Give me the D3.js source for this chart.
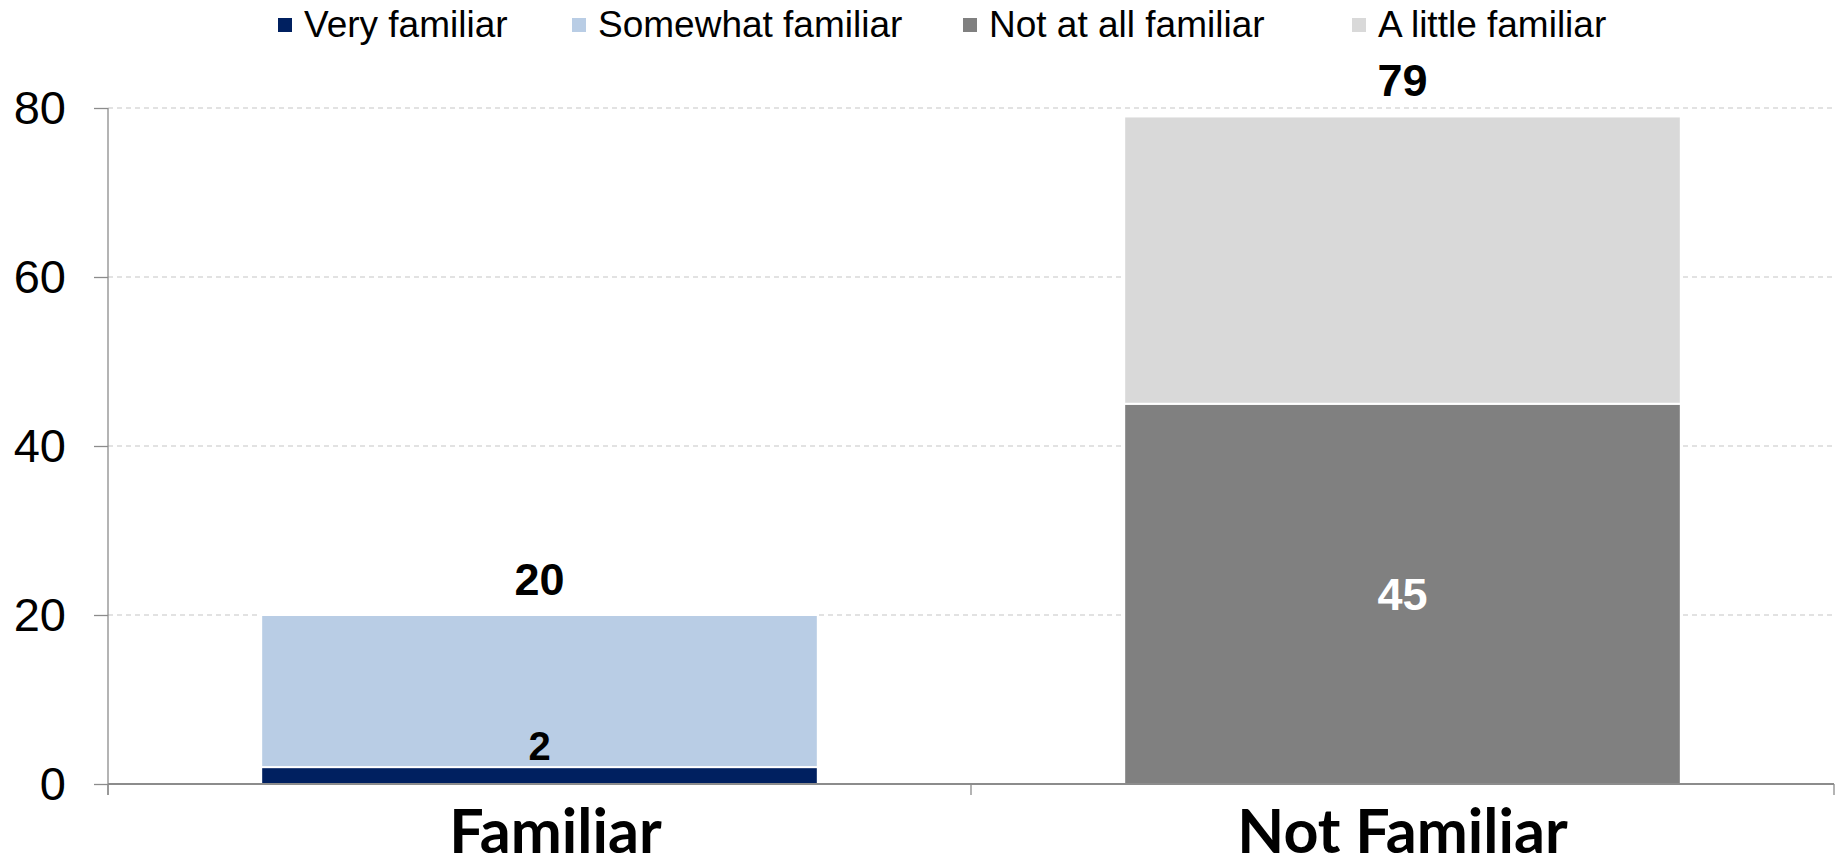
<!DOCTYPE html>
<html>
<head>
<meta charset="utf-8">
<script src="https://cdn.jsdelivr.net/npm/d3@7"></script>
<style>
  html, body { margin: 0; padding: 0; background: #ffffff; }
  svg { display: block; }
</style>
</head>
<body>
<svg id="chart" width="1841" height="855"></svg>
<script>
// Familiarity survey: stacked shares per group
const categories = ["Familiar", "Not Familiar"];
const seriesNames = ["Very familiar", "Somewhat familiar", "Not at all familiar", "A little familiar"];
const seriesColors = ["#002060", "#b9cde5", "#808080", "#d9d9d9"];
const veryFamiliar = [2, 0];
const somewhatFamiliar = [18, 0];
const notAtAllFamiliar = [0, 45];
const aLittleFamiliar = [0, 34];
const totals = [20, 79];
const yTicks = [0, 20, 40, 60, 80];

const W = 1841, H = 855;
const plot = { left: 108, right: 1834, top: 108, bottom: 784 };
const categoryLabelShift = [16, 0];

const svg = d3.select("#chart");

const rows = categories.map((c, i) => ({
  category: c,
  "Very familiar": veryFamiliar[i],
  "Somewhat familiar": somewhatFamiliar[i],
  "Not at all familiar": notAtAllFamiliar[i],
  "A little familiar": aLittleFamiliar[i]
}));

const stacked = d3.stack().keys(seriesNames)(rows);

const x = d3.scaleBand()
  .domain(categories)
  .range([plot.left, plot.right])
  .paddingInner(0.355)
  .paddingOuter(0.1775);

const y = d3.scaleLinear().domain([0, 80]).range([plot.bottom, plot.top]);

const color = d3.scaleOrdinal().domain(seriesNames).range(seriesColors);

// dashed horizontal gridlines
svg.append("g")
  .selectAll("line")
  .data(yTicks.filter(t => t > 0))
  .join("line")
  .attr("x1", plot.left)
  .attr("x2", plot.right)
  .attr("y1", d => y(d))
  .attr("y2", d => y(d))
  .attr("stroke", "#d9d9d9")
  .attr("stroke-width", 1.3)
  .attr("stroke-dasharray", "5,4");

// stacked bars
svg.append("g")
  .selectAll("g")
  .data(stacked)
  .join("g")
  .attr("fill", d => color(d.key))
  .selectAll("rect")
  .data(d => d.filter(s => s[1] - s[0] > 0))
  .join("rect")
  .attr("x", d => x(d.data.category))
  .attr("width", x.bandwidth())
  .attr("y", d => y(d[1]))
  .attr("height", d => y(d[0]) - y(d[1]))
  .attr("stroke", "#ffffff")
  .attr("stroke-width", 2);

// y axis
const yAxis = d3.axisLeft(y)
  .tickValues(yTicks)
  .tickSize(14)
  .tickPadding(28)
  .tickFormat(d3.format("d"));

const gy = svg.append("g")
  .attr("transform", `translate(${plot.left},0)`)
  .call(yAxis);
gy.select(".domain").attr("stroke", "#8c8c8c").attr("stroke-width", 1.3)
  .attr("d", `M0,${plot.top}V${plot.bottom + 11}`);
gy.selectAll(".tick line").attr("stroke", "#8c8c8c").attr("stroke-width", 1.3);
gy.selectAll(".tick text")
  .attr("font-family", "'Liberation Sans', Arial, sans-serif")
  .attr("font-size", 47)
  .attr("fill", "#000000");

// x axis baseline with boundary ticks
const xBoundaries = [plot.left, ...categories.map(c => x(c) + x.bandwidth() + x.step() * x.paddingInner() / 2)];
xBoundaries[xBoundaries.length - 1] = plot.right;
const gx = svg.append("g");
gx.append("line")
  .attr("x1", plot.left).attr("x2", plot.right)
  .attr("y1", y(0)).attr("y2", y(0))
  .attr("stroke", "#8c8c8c").attr("stroke-width", 2);
gx.selectAll("line.tick")
  .data(xBoundaries)
  .join("line")
  .attr("class", "tick")
  .attr("x1", d => d).attr("x2", d => d)
  .attr("y1", y(0)).attr("y2", y(0) + 11)
  .attr("stroke", "#8c8c8c").attr("stroke-width", 1.3);

// category labels
svg.append("g")
  .selectAll("text")
  .data(categories)
  .join("text")
  .attr("x", (d, i) => x(d) + x.bandwidth() / 2 + categoryLabelShift[i])
  .attr("y", 853)
  .attr("text-anchor", "middle")
  .attr("font-family", "Lato, 'Open Sans', sans-serif")
  .attr("font-weight", 700)
  .attr("font-size", 61)
  .attr("fill", "#000000")
  .text(d => d);

const labelFont = "'Liberation Sans', Arial, sans-serif";

// total labels above each stack
svg.append("g")
  .selectAll("text")
  .data(categories)
  .join("text")
  .attr("x", d => x(d) + x.bandwidth() / 2)
  .attr("y", (d, i) => y(totals[i]) - 20)
  .attr("text-anchor", "middle")
  .attr("font-family", labelFont)
  .attr("font-weight", 700)
  .attr("font-size", 45)
  .attr("fill", "#000000")
  .text((d, i) => totals[i]);

// value label for "Very familiar" (just above its thin segment)
const veryLayer = stacked[0];
svg.append("text")
  .attr("x", x(categories[0]) + x.bandwidth() / 2)
  .attr("y", y(veryLayer[0][1]) - 7)
  .attr("text-anchor", "middle")
  .attr("font-family", labelFont)
  .attr("font-weight", 700)
  .attr("font-size", 40)
  .attr("fill", "#000000")
  .text(veryFamiliar[0]);

// value label for "Not at all familiar" (centred in its segment)
const notLayer = stacked[2];
svg.append("text")
  .attr("x", x(categories[1]) + x.bandwidth() / 2)
  .attr("y", (y(notLayer[1][0]) + y(notLayer[1][1])) / 2)
  .attr("dy", "0.36em")
  .attr("text-anchor", "middle")
  .attr("font-family", labelFont)
  .attr("font-weight", 700)
  .attr("font-size", 45)
  .attr("fill", "#ffffff")
  .text(notAtAllFamiliar[1]);

// legend
const legendX = [278, 572, 963, 1352];
const legend = svg.append("g")
  .selectAll("g")
  .data(seriesNames)
  .join("g")
  .attr("transform", (d, i) => `translate(${legendX[i]},0)`);
legend.append("rect")
  .attr("x", 0).attr("y", 18)
  .attr("width", 14).attr("height", 14)
  .attr("fill", d => color(d));
legend.append("text")
  .attr("x", 26).attr("y", 37)
  .attr("font-family", labelFont)
  .attr("font-size", 37)
  .attr("fill", "#000000")
  .text(d => d);
</script>
</body>
</html>
